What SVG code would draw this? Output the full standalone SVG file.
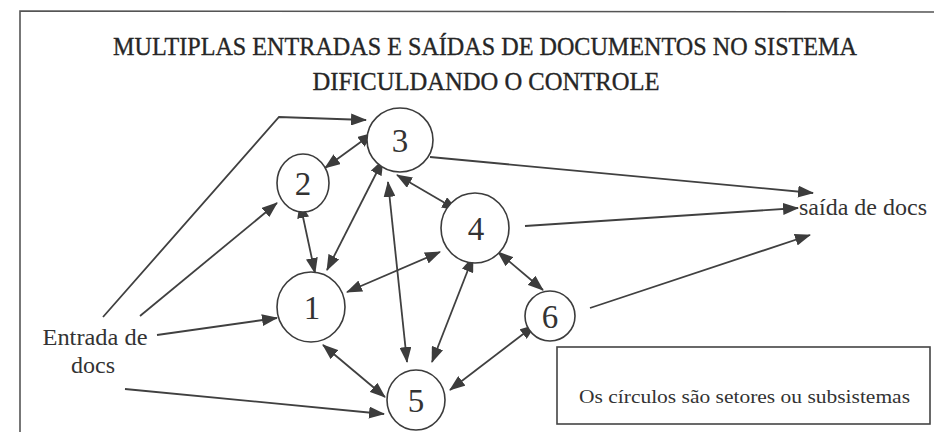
<svg xmlns="http://www.w3.org/2000/svg" width="934" height="432" viewBox="0 0 934 432">
<defs>
<style>
.bg{fill:#ffffff}
.frame{fill:none;stroke:#555;stroke-width:1.6}
.node{fill:#fff;stroke:#3c3c3c;stroke-width:1.6}
.num{font-size:33px;fill:#333;text-anchor:middle}
.lbl{font-size:24px;fill:#333}
.title{font-size:26px;fill:#262626;stroke:#262626;stroke-width:0.35;text-anchor:middle}
.note{font-size:19px;fill:#333}
.box{fill:#fff;stroke:#444;stroke-width:1.6}
.c{fill:none;stroke:#404040;stroke-width:1.8}
.one{marker-end:url(#ah)}
.two{marker-start:url(#ah);marker-end:url(#ah)}
</style>
<marker id="ah" viewBox="0 0 16 12" markerWidth="16" markerHeight="12" markerUnits="userSpaceOnUse" refX="15" refY="6" orient="auto-start-reverse">
<path d="M0,0 L16,6 L0,12 z" fill="#3c3c3c"/>
</marker>
</defs>
<rect class="bg" x="0" y="0" width="934" height="432"/>
<path class="frame" d="M20,432 L20,11 L934,12"/>
<g id="connectors">
<polyline class="c one" points="103,317 279,117 366,120"/>
<line class="c one" x1="140" y1="316" x2="277" y2="203"/>
<line class="c one" x1="157" y1="335" x2="277" y2="318"/>
<line class="c one" x1="125" y1="389" x2="384" y2="414"/>
<line class="c two" x1="325" y1="168" x2="373" y2="133"/>
<line class="c two" x1="300" y1="203" x2="315" y2="273"/>
<line class="c two" x1="383" y1="160" x2="327" y2="270"/>
<line class="c two" x1="388" y1="182" x2="407" y2="362"/>
<line class="c two" x1="397" y1="175" x2="457" y2="210"/>
<line class="c one" x1="430" y1="157" x2="813" y2="193"/>
<line class="c one" x1="525" y1="226" x2="798" y2="208"/>
<line class="c one" x1="590" y1="308" x2="810" y2="235"/>
<line class="c two" x1="347" y1="292" x2="440" y2="252"/>
<line class="c two" x1="473" y1="257" x2="432" y2="362"/>
<line class="c two" x1="498" y1="252" x2="543" y2="290"/>
<line class="c two" x1="535" y1="325" x2="450" y2="390"/>
<line class="c two" x1="323" y1="345" x2="385" y2="397"/>
</g>
<g font-family="'Liberation Serif', 'Times New Roman', 'DejaVu Serif', serif">
<g id="title">
<text class="title" x="485" y="55" textLength="744" lengthAdjust="spacingAndGlyphs">MULTIPLAS ENTRADAS E SAÍDAS DE DOCUMENTOS NO SISTEMA</text>
<text class="title" x="486" y="90" textLength="347" lengthAdjust="spacingAndGlyphs">DIFICULDANDO O CONTROLE</text>
</g>
<g id="node3"><ellipse class="node" cx="400" cy="140" rx="33" ry="32"/><text class="num" x="400" y="152">3</text></g>
<g id="node2"><ellipse class="node" cx="303" cy="183" rx="26" ry="29"/><text class="num" x="303" y="195">2</text></g>
<g id="node4"><ellipse class="node" cx="475" cy="228" rx="34" ry="35"/><text class="num" x="476" y="240">4</text></g>
<g id="node1"><ellipse class="node" cx="311" cy="307" rx="34" ry="35"/><text class="num" x="312" y="319">1</text></g>
<g id="node5"><ellipse class="node" cx="416" cy="400" rx="29" ry="30"/><text class="num" x="416" y="412">5</text></g>
<g id="node6"><ellipse class="node" cx="550" cy="316" rx="25" ry="25"/><text class="num" x="550" y="328">6</text></g>
<g id="entrada"><text class="lbl" text-anchor="middle" x="95" y="345" textLength="105" lengthAdjust="spacingAndGlyphs">Entrada de</text><text class="lbl" text-anchor="middle" x="93" y="373">docs</text></g>
<g id="saida"><text class="lbl" x="799" y="215" textLength="128" lengthAdjust="spacingAndGlyphs">saída de docs</text></g>
<g id="legend"><rect class="box" x="557" y="347" width="373" height="77"/><text class="note" x="579" y="403" textLength="331" lengthAdjust="spacingAndGlyphs">Os círculos são setores ou subsistemas</text></g>
</g>
</svg>
